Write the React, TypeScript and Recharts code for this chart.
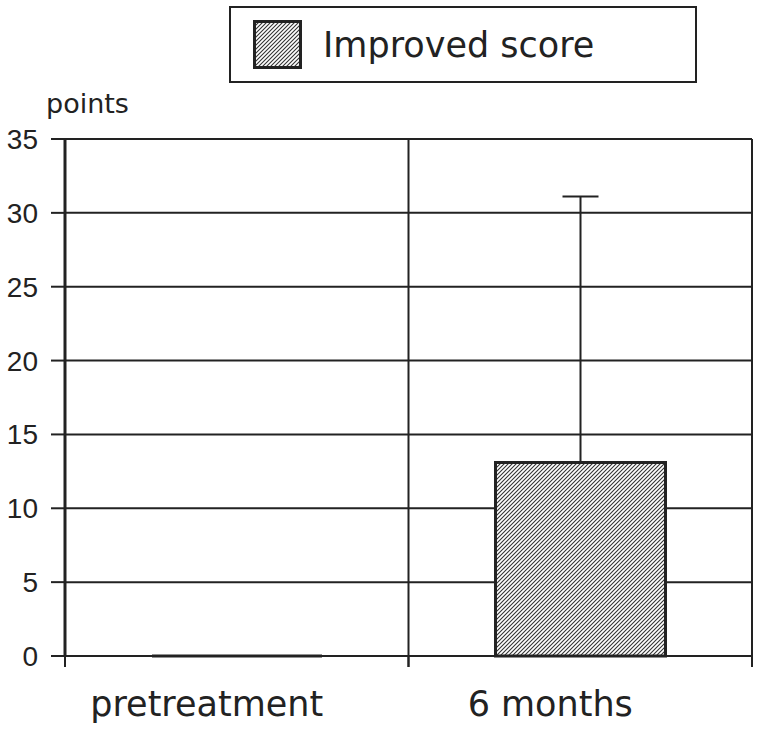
import { BarChart, Bar, XAxis, YAxis, CartesianGrid, ErrorBar } from "recharts";

// values
const categories = ["pretreatment", "6 months"];
const improvedScore = [0, 13.1];
const sdUpper = [0, 18.0];
const yTicks = [0, 5, 10, 15, 20, 25, 30, 35];
const edgeTicks = [0, 1, 2];

const INK = "#222";
const LABEL_FONT = "'DejaVu Sans', sans-serif";

const data = categories.map((name, i) => ({
  name,
  score: improvedScore[i],
  err: [0, sdUpper[i]],
}));

interface ShapeProps {
  x?: number;
  y?: number;
  width?: number;
  height?: number;
}

// Recharts drops zero-height rects, but the reference draws the zero bar as a thick line
function HatchBar({ x = 0, y = 0, width = 0, height = 0 }: ShapeProps) {
  if (height <= 0.5) {
    return <line x1={x} x2={x + width} y1={y} y2={y} stroke={INK} strokeWidth={3} />;
  }
  return (
    <rect x={x} y={y} width={width} height={height} fill="url(#hatch)" stroke={INK} strokeWidth={3} />
  );
}

interface TickProps {
  x?: number;
  y?: number;
  payload?: { value: string; offset?: number };
}

// label plus the small tick marks at both edges of the category band
function CategoryTick({ x = 0, y = 0, payload }: TickProps) {
  const half = payload?.offset ?? 0;
  return (
    <g>
      {half > 0 && (
        <>
          <line x1={x - half} x2={x - half} y1={y} y2={y + 11} stroke={INK} strokeWidth={2} />
          <line x1={x + half} x2={x + half} y1={y} y2={y + 11} stroke={INK} strokeWidth={2} />
        </>
      )}
      <text x={x} y={y + 60} dx={-30} textAnchor="middle" fontSize={35} fill={INK} fontFamily={LABEL_FONT}>
        {payload?.value}
      </text>
    </g>
  );
}

function HatchDefs() {
  return (
    <pattern id="hatch" width={4} height={4} patternUnits="userSpaceOnUse">
      <rect width={4} height={4} fill="#fff" />
      <path d="M-1,1 L1,-1 M0,4 L4,0 M3,5 L5,3" stroke="#333" strokeWidth={1.1} />
    </pattern>
  );
}

// vertical rules: plot edges plus the boundary between the two categories
const categoryEdges = ({ offset }: { offset: { left: number; width: number } }) =>
  edgeTicks.map((t) => offset.left + (offset.width * t) / categories.length);

export default function App() {
  return (
    <div style={{ position: "absolute", left: 0, top: 0, width: 759, height: 729, background: "#fff" }}>
      {/* legend box */}
      <div
        style={{
          position: "absolute",
          left: 229,
          top: 6,
          width: 464,
          height: 73,
          border: `2px solid ${INK}`,
          display: "flex",
          alignItems: "center",
          boxSizing: "content-box",
        }}
      >
        <svg width={50} height={50} style={{ marginLeft: 22 }}>
          <defs>
            <HatchDefs />
          </defs>
          <rect x={1.5} y={1.5} width={46} height={46} fill="url(#hatch)" stroke={INK} strokeWidth={3} />
        </svg>
        <span style={{ marginLeft: 20, fontSize: 35, fontFamily: LABEL_FONT, color: INK }}>Improved score</span>
      </div>

      <div
        style={{ position: "absolute", left: 46, top: 88, fontSize: 27, fontFamily: LABEL_FONT, color: INK }}
      >
        points
      </div>

      <BarChart
        width={759}
        height={729}
        data={data}
        margin={{ top: 139, right: 7, bottom: 0, left: 0 }}
        barCategoryGap={0}
        style={{ position: "absolute", left: 0, top: 0 }}
      >
        <defs>
          <HatchDefs />
        </defs>
        <CartesianGrid
          xAxisId="cat"
          stroke={INK}
          strokeWidth={2}
          verticalCoordinatesGenerator={categoryEdges}
        />
        <XAxis
          xAxisId="cat"
          dataKey="name"
          height={73}
          axisLine={{ stroke: INK, strokeWidth: 2 }}
          tickLine={false}
          tickSize={0}
          tickMargin={0}
          tick={<CategoryTick />}
        />
        <YAxis
          width={65}
          domain={[0, 35]}
          ticks={yTicks}
          interval={0}
          tickSize={14}
          tickMargin={13}
          axisLine={{ stroke: INK, strokeWidth: 3 }}
          tickLine={{ stroke: INK, strokeWidth: 2 }}
          tick={{ fontSize: 28, fill: INK, fontFamily: "'Liberation Sans', sans-serif" }}
        />
        <Bar
          xAxisId="cat"
          dataKey="score"
          barSize={170}
          shape={<HatchBar />}
          isAnimationActive={false}
        >
          <ErrorBar dataKey="err" width={18} stroke={INK} strokeWidth={2} direction="y" />
        </Bar>
      </BarChart>
    </div>
  );
}
